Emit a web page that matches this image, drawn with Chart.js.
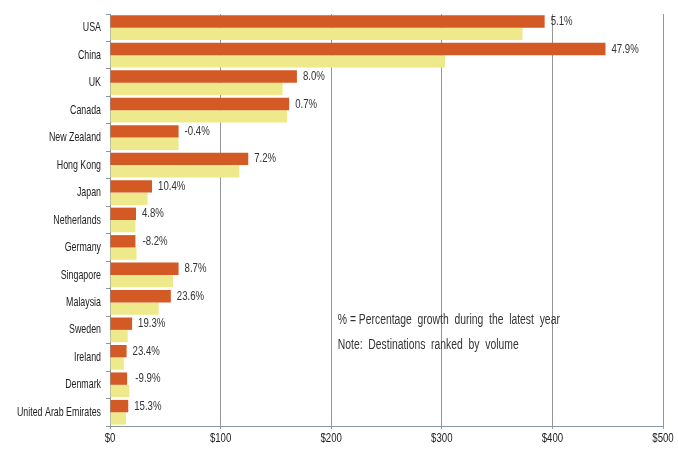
<!DOCTYPE html>
<html>
<head>
<meta charset="utf-8">
<script src="https://cdn.jsdelivr.net/npm/chart.js@4/dist/chart.umd.min.js"></script>
<style>
  html, body { margin: 0; padding: 0; background: #fff; }
  #wrap { width: 678px; height: 455px; }
</style>
</head>
<body>
<div id="wrap"><canvas id="actualChart" width="678" height="455"></canvas></div>
<script>
	// destinations ranked by volume
	var countries = ['USA', 'China', 'UK', 'Canada', 'New Zealand', 'Hong Kong', 'Japan', 'Netherlands',
		'Germany', 'Singapore', 'Malaysia', 'Sweden', 'Ireland', 'Denmark', 'United Arab Emirates'];
	var latestYear = [393, 448, 169, 162, 62, 125, 38, 23.5, 23, 62, 55, 20, 15, 15.5, 16.5];
	var prevYear = [373, 303, 156, 160, 62, 117, 34, 23, 24, 57, 44, 16, 12.5, 17.5, 14.5];
	var growth = ['5.1%', '47.9%', '8.0%', '0.7%', '-0.4%', '7.2%', '10.4%', '4.8%',
		'-8.2%', '8.7%', '23.6%', '19.3%', '23.4%', '-9.9%', '15.3%'];
	var xTicks = [0, 100, 200, 300, 400, 500];
	var notes = ['% = Percentage  growth  during  the  latest  year', 'Note:  Destinations  ranked  by  volume'];

	var fam = '"Liberation Sans", Arial, sans-serif';

	// draw text squeezed horizontally (the original uses a condensed face)
	function txt(ctx, s, x, y, align, size, sq){
		ctx.save();
		ctx.font = size + 'px ' + fam;
		ctx.textAlign = align;
		ctx.textBaseline = 'middle';
		ctx.translate(x, y);
		ctx.scale(sq || 0.74, 1);
		ctx.fillText(s, 0, 0);
		ctx.restore();
	}

	var textLayer = {
		id: 'textLayer',
		afterDraw: function(chart){
			let ctx = chart.ctx;
			let xs = chart.scales.x, ys = chart.scales.y;
			let m0 = chart.getDatasetMeta(0).data, m1 = chart.getDatasetMeta(1).data;
			ctx.save();
			ctx.fillStyle = '#333';
			// growth labels
			for (let i = 0; i < growth.length; i++){
				let x = Math.max(m0[i].x, m1[i].x) + 6;
				txt(ctx, growth[i], x, m0[i].y, 'left', 13);
			}
			// category labels
			ctx.fillStyle = '#222';
			for (let i = 0; i < countries.length; i++){
				txt(ctx, countries[i], xs.left - 9, ys.getPixelForValue(i), 'right', 13, 0.68);
			}
			// x tick labels
			xTicks.forEach(v => txt(ctx, '$' + v, xs.getPixelForValue(v), xs.top + 12, 'center', 13));
			// notes
			ctx.fillStyle = '#333';
			txt(ctx, notes[0], xs.getPixelForValue(206), 320, 'left', 14);
			txt(ctx, notes[1], xs.getPixelForValue(206), 345, 'left', 14);
			ctx.restore();
		}
	};

	var data = {
		labels: countries,
		datasets: [{
			data: latestYear,
			backgroundColor: '#D45A25',
			barPercentage: 1,
			categoryPercentage: 0.9
		}, {
			data: prevYear,
			backgroundColor: '#EEEA8C',
			barPercentage: 1,
			categoryPercentage: 0.9
		}]
	};

	var options = {
		indexAxis: 'y',
		responsive: false,
		animation: false,
		devicePixelRatio: 1,
		layout: { padding: { top: 14, right: 15, bottom: 4, left: 0 } },
		plugins: { legend: { display: false }, tooltip: { enabled: false } },
		scales: {
			x: {
				min: 0, max: 500,
				afterBuildTicks: function(s){ s.ticks = xTicks.map(v => ({value: v})); },
				afterFit: function(s){ s.height = 25; },
				grid: { color: '#969696', tickLength: 3, lineWidth: 1 },
				border: { color: '#8797a6' },
				ticks: { color: 'rgba(0,0,0,0)', font: { size: 12 } }
			},
			y: {
				afterFit: function(s){ s.width = 110; },
				grid: { drawOnChartArea: false, offset: true, tickLength: 4, color: '#8797a6' },
				border: { color: '#8797a6' },
				ticks: { color: 'rgba(0,0,0,0)', font: { size: 12 }, autoSkip: false }
			}
		}
	};

	var myChart = new Chart(document.getElementById('actualChart'), {
		type: 'bar',
		data: data,
		options: options,
		plugins: [textLayer]
	});
</script>
</body>
</html>
